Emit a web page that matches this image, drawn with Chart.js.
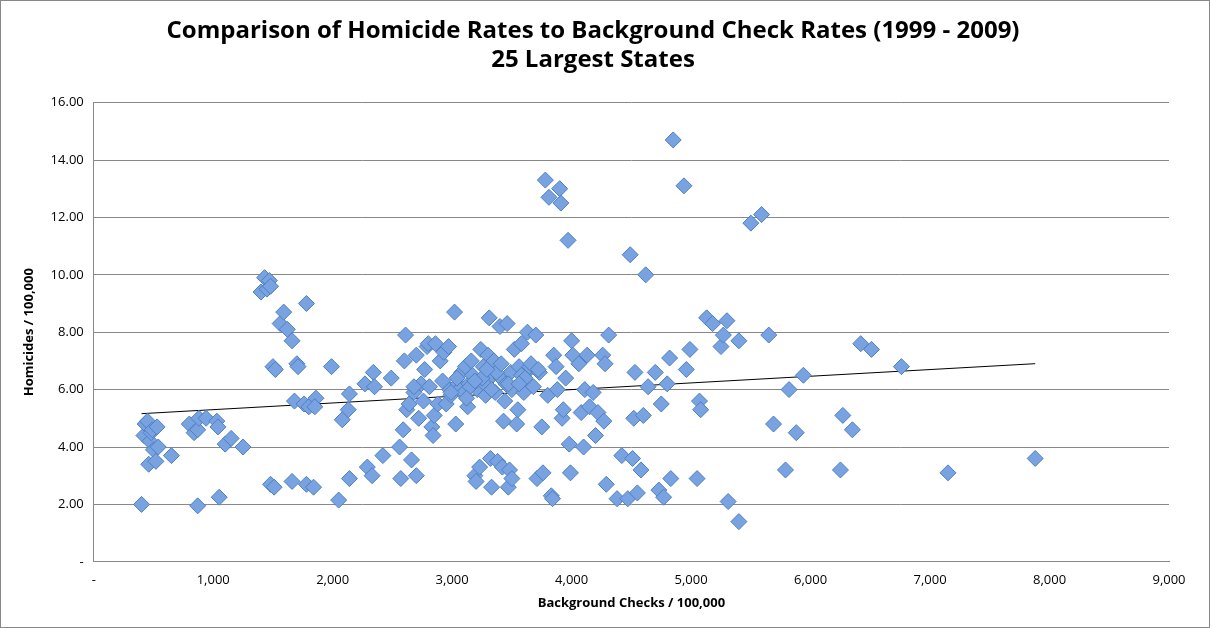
<!DOCTYPE html>
<html><head><meta charset="utf-8">
<script src="https://cdn.jsdelivr.net/npm/chart.js@4"></script>
<style>
html,body{margin:0;padding:0;background:#fff;}
#wrap{position:absolute;left:0;top:0;width:1208px;height:626px;border:1px solid #888;}
</style></head><body>
<div id="wrap"><canvas id="c" width="1208" height="626"></canvas></div>
<script>
const checks = [400,420,430,450,460,470,480,490,500,520,530,540,650,
800,840,870,880,870,940,1030,1040,1050,1100,1150,1250,
1400,1430,1450,1470,1480,1500,1520,1480,1510,1560,1590,1620,1660,1680,1700,1710,1780,1760,1800,1780,1840,1860,1850,1660,1990,
2050,2080,2130,2140,2140,2270,2290,2330,2340,2350,2420,2490,
2560,2570,2590,2600,2610,2620,2640,2660,2680,2700,2700,2720,2740,2760,2790,2800,2810,2830,2840,2850,2860,2880,2900,2930,2950,2970,2980,2990,3020,3030,3050,3060,
3080,3100,3110,3130,3140,3160,3170,3190,3200,3210,3230,3240,3260,3270,3280,3300,3310,3320,3330,3340,3350,3360,3380,3400,3410,3420,3430,3440,3460,3470,3480,3490,3500,3500,3520,3540,3550,3560,3580,3600,3620,3630,3650,3680,3700,3710,3730,3750,3760,3780,3800,3810,3830,3840,3850,3870,3880,3900,3910,3920,3930,3950,3970,3980,3990,4000,4010,4060,4080,4100,4110,4130,4150,4180,4200,4220,4260,4270,4280,4290,4310,4380,4420,4470,4490,4510,4520,4530,4550,4580,4600,4620,4640,4700,4730,4750,4770,4800,4820,4830,4850,4940,4960,4990,5050,5070,5080,5130,5180,5250,5270,5300,5310,5400,5400,5500,5590,5650,5690,5790,5820,5880,5940,6250,6270,6350,6420,6510,6760,7150,7880,
2920,3150,3250,3370,3450,3580,3660,2770,3040,3190,3330,3470,3610,2680,2990,3120,3290,3410,3560,3720];
const homicides = [2.0,4.4,4.8,4.9,3.4,4.2,4.5,4.6,3.9,3.5,4.7,4.0,3.7,
4.8,4.5,4.6,5.0,1.95,5.0,4.9,4.7,2.25,4.1,4.3,4.0,
9.4,9.9,9.5,9.8,9.6,6.8,6.7,2.7,2.6,8.3,8.7,8.1,7.7,5.6,6.9,6.8,9.0,5.5,5.4,2.7,2.6,5.7,5.4,2.8,6.8,
2.15,4.95,5.3,5.85,2.9,6.2,3.3,3.0,6.6,6.1,3.7,6.4,
4.0,2.9,4.6,7.0,7.9,5.3,5.5,3.55,5.9,3.0,7.2,5.0,6.2,5.6,7.5,7.6,6.1,4.7,4.4,5.1,7.6,5.5,7.0,7.3,5.5,7.5,6.0,5.8,8.7,4.8,6.2,6.0,
6.6,5.9,6.8,5.4,6.2,7.0,6.5,3.0,2.8,6.0,3.3,7.4,6.8,6.2,5.8,7.2,8.5,3.6,2.6,6.5,7.0,5.9,3.5,8.2,6.4,3.3,4.9,5.6,8.3,2.6,3.2,6.6,6.0,2.9,7.4,4.8,5.3,6.8,7.6,5.9,6.6,8.0,6.8,6.1,7.9,2.9,6.6,4.7,3.1,13.3,5.8,12.7,2.3,2.2,7.2,6.8,6.0,13.0,12.5,5.0,5.3,6.4,11.2,4.1,3.1,7.7,7.2,6.9,5.2,4.0,6.0,7.2,5.4,5.9,4.4,5.2,7.2,4.9,6.9,2.7,7.9,2.2,3.7,2.2,10.7,3.6,5.0,6.6,2.4,3.2,5.1,10.0,6.1,6.6,2.5,5.5,2.25,6.2,7.1,2.9,14.7,13.1,6.7,7.4,2.9,5.6,5.3,8.5,8.3,7.5,7.9,8.4,2.1,1.4,7.7,11.8,12.1,7.9,4.8,3.2,6.0,4.5,6.5,3.2,5.1,4.6,7.6,7.4,6.8,3.1,3.6,
6.3,6.1,6.4,6.6,6.2,6.5,6.9,6.7,6.4,6.3,6.0,6.2,6.4,6.1,5.9,5.7,6.7,6.9,6.2,6.7];
const xTicks = [0,1000,2000,3000,4000,5000,6000,7000,8000,9000];
const yTicks = [0,2,4,6,8,10,12,14,16];

const points = checks.map((x, i) => ({x: x, y: homicides[i]}));

// least-squares trend line over the data range
const n = points.length;
const mx = checks.reduce((a, b) => a + b, 0) / n;
const my = homicides.reduce((a, b) => a + b, 0) / n;
let sxy = 0, sxx = 0;
points.forEach(p => { sxy += (p.x - mx) * (p.y - my); sxx += (p.x - mx) ** 2; });
const slope = sxy / sxx, icpt = my - slope * mx;
const xmin = Math.min(...checks), xmax = Math.max(...checks);
const trend = [{x: xmin, y: icpt + slope * xmin}, {x: xmax, y: icpt + slope * xmax}];

const font = "'Open Sans', 'Liberation Sans', sans-serif";
new Chart(document.getElementById('c'), {
    data: {
        datasets: [{
            type: 'scatter',
            data: points,
            pointStyle: 'rectRot',
            pointRadius: 8,
            pointHoverRadius: 8,
            backgroundColor: '#78a3e0',
            borderColor: '#4f7fc2',
            borderWidth: 1,
        }, {
            type: 'line',
            data: trend,
            borderColor: '#000',
            borderWidth: 1,
            pointRadius: 0,
            fill: false,
        }]
    },
    options: {
        responsive: false,
        animation: false,
        layout: {padding: {left: 16, right: 40, top: 10, bottom: 12}},
        plugins: {
            legend: {display: false},
            tooltip: {enabled: false},
            title: {
                display: true,
                text: ['Comparison of Homicide Rates to Background Check Rates (1999 - 2009)', '25 Largest States'],
                font: {family: font, size: 24, weight: 'bold'},
                color: '#000',
                padding: {top: 6, bottom: 28},
                lineHeight: 1.3,
            }
        },
        scales: {
            x: {
                type: 'linear', min: 0, max: 9000,
                afterBuildTicks: ax => { ax.ticks = xTicks.map(v => ({value: v})); },
                ticks: {
                    font: {family: font, size: 13}, color: '#000',
                    callback: v => v === 0 ? '-' : v.toLocaleString('en-US'),
                },
                grid: {display: false, drawTicks: true},
                border: {color: '#888'},
                title: {display: true, text: 'Background Checks / 100,000', font: {family: font, size: 13, weight: 'bold'}, color: '#000'},
            },
            y: {
                min: 0, max: 16,
                afterBuildTicks: ax => { ax.ticks = yTicks.map(v => ({value: v})); },
                ticks: {
                    font: {family: font, size: 13}, color: '#000', padding: 10,
                    callback: v => v === 0 ? '-' : v.toFixed(2),
                },
                grid: {color: '#888', drawTicks: false},
                border: {color: '#888'},
                title: {display: true, text: 'Homicides / 100,000', font: {family: font, size: 13, weight: 'bold'}, color: '#000'},
            }
        }
    }
});
</script>
</body></html>
